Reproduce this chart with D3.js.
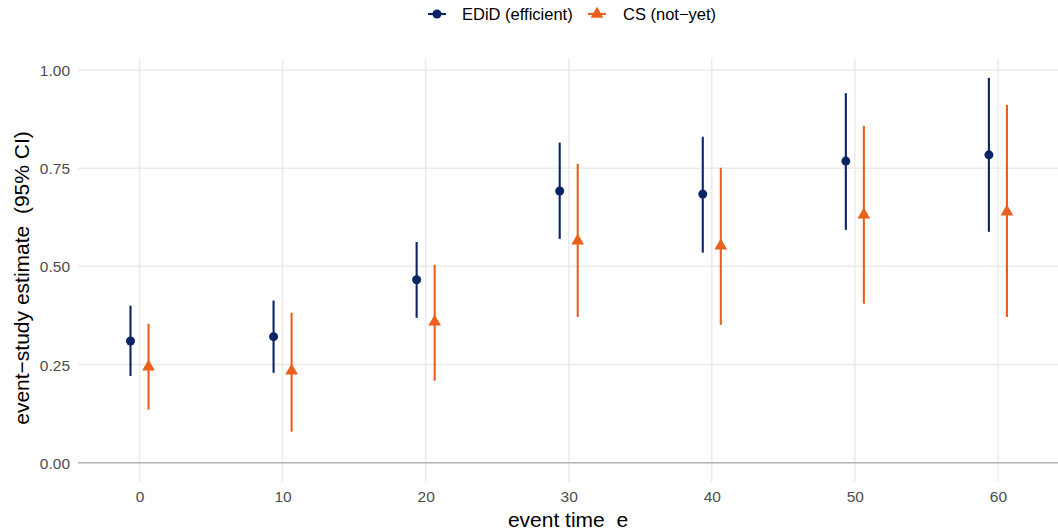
<!DOCTYPE html>
<html>
<head>
<meta charset="utf-8">
<script src="https://cdn.jsdelivr.net/npm/d3@7"></script>
<style>
  html, body { margin: 0; padding: 0; background: #fff; }
  svg { display: block; font-family: "Liberation Sans", Arial, Helvetica, sans-serif; }
</style>
</head>
<body>
<svg id="chart" width="1058" height="530"></svg>
<script>
// ---- data ----
const eventTimes = [0, 10, 20, 30, 40, 50, 60];
const seriesNames = ["EDiD (efficient)", "CS (not\u2212yet)"];
const edidEst = [0.310, 0.321, 0.466, 0.692, 0.684, 0.768, 0.784];
const edidLo  = [0.221, 0.229, 0.369, 0.570, 0.535, 0.593, 0.588];
const edidHi  = [0.400, 0.413, 0.562, 0.815, 0.830, 0.941, 0.980];
const csEst   = [0.244, 0.234, 0.359, 0.565, 0.552, 0.631, 0.639];
const csLo    = [0.135, 0.079, 0.209, 0.371, 0.351, 0.405, 0.371];
const csHi    = [0.354, 0.382, 0.504, 0.761, 0.751, 0.858, 0.911];
const yTicks  = [0, 0.25, 0.5, 0.75, 1.0];
const xTicks  = [0, 10, 20, 30, 40, 50, 60];

const colors = { edid: "#0b2466", cs: "#e8601c" };
const dodge = 0.63;

const svg = d3.select("#chart");
const panel = { left: 78, right: 1058, top: 58.6, bottom: 482 };

const x = d3.scaleLinear().domain([-4.3, 64.2]).range([panel.left, panel.right]);
const y = d3.scaleLinear().domain([-0.049, 1.029]).range([panel.bottom, panel.top]);

// grid
const grid = svg.append("g");
grid.selectAll("line.hg").data(yTicks).join("line")
  .attr("x1", panel.left).attr("x2", panel.right)
  .attr("y1", d => y(d)).attr("y2", d => y(d))
  .attr("stroke", "#ebebeb").attr("stroke-width", 1.5);
grid.selectAll("line.vg").data(xTicks).join("line")
  .attr("y1", panel.top).attr("y2", panel.bottom)
  .attr("x1", d => x(d)).attr("x2", d => x(d))
  .attr("stroke", "#ebebeb").attr("stroke-width", 1.5);

// zero line
svg.append("line")
  .attr("x1", panel.left).attr("x2", panel.right)
  .attr("y1", y(0)).attr("y2", y(0))
  .attr("stroke", "#b5b5b5").attr("stroke-width", 1.5);

// axes (labels only, using d3 axes)
const yAxis = d3.axisLeft(y).tickValues(yTicks).tickFormat(d3.format(".2f")).tickSize(0).tickPadding(0);
const gy = svg.append("g").attr("transform", `translate(${panel.left - 8},0)`).call(yAxis);
gy.select(".domain").remove();
gy.selectAll("text").attr("fill", "#4d4d4d").style("font-size", "15.5px").attr("dy", "0.36em")
  .style("font-family", "'Liberation Sans', Arial, sans-serif");

const xAxis = d3.axisBottom(x).tickValues(xTicks).tickFormat(d3.format("d")).tickSize(0).tickPadding(0);
const gx = svg.append("g").attr("transform", `translate(0,${panel.bottom + 8})`).call(xAxis);
gx.select(".domain").remove();
gx.selectAll("text").attr("fill", "#4d4d4d").style("font-size", "15.5px").attr("dy", "0.75em")
  .style("font-family", "'Liberation Sans', Arial, sans-serif");

// axis titles
svg.append("text").attr("x", (panel.left + panel.right) / 2).attr("y", 527)
  .attr("text-anchor", "middle").style("font-size", "21px").attr("fill", "#000")
  .style("white-space", "pre")
  .text("event time  e");
svg.append("text").attr("transform", `translate(29,278) rotate(-90)`)
  .attr("text-anchor", "middle").style("font-size", "21px").attr("fill", "#000")
  .style("white-space", "pre")
  .text("event\u2212study estimate  (95% CI)");

// data rows
const edidRows = eventTimes.map((t, i) => ({ t, est: edidEst[i], lo: edidLo[i], hi: edidHi[i] }));
const csRows = eventTimes.map((t, i) => ({ t, est: csEst[i], lo: csLo[i], hi: csHi[i] }));

const tri = d3.symbol().type(d3.symbolTriangle).size(70);

// EDiD
const gE = svg.append("g");
gE.selectAll("line").data(edidRows).join("line")
  .attr("x1", d => x(d.t - dodge)).attr("x2", d => x(d.t - dodge))
  .attr("y1", d => y(d.lo)).attr("y2", d => y(d.hi))
  .attr("stroke", colors.edid).attr("stroke-width", 2.1);
gE.selectAll("circle").data(edidRows).join("circle")
  .attr("cx", d => x(d.t - dodge)).attr("cy", d => y(d.est)).attr("r", 4.5)
  .attr("fill", colors.edid);

// CS
const gC = svg.append("g");
gC.selectAll("line").data(csRows).join("line")
  .attr("x1", d => x(d.t + dodge)).attr("x2", d => x(d.t + dodge))
  .attr("y1", d => y(d.lo)).attr("y2", d => y(d.hi))
  .attr("stroke", colors.cs).attr("stroke-width", 2.1);
gC.selectAll("path").data(csRows).join("path")
  .attr("d", tri)
  .attr("transform", d => `translate(${x(d.t + dodge)},${y(d.est)})`)
  .attr("fill", colors.cs);

// legend
const leg = svg.append("g");
const legY = 14;
const items = [
  { name: seriesNames[0], color: colors.edid, shape: "circle", kx: 428, tx: 462 },
  { name: seriesNames[1], color: colors.cs, shape: "tri", kx: 588, tx: 623 }
];
items.forEach(it => {
  leg.append("line").attr("x1", it.kx).attr("x2", it.kx + 18).attr("y1", legY).attr("y2", legY)
    .attr("stroke", it.color).attr("stroke-width", 2.1);
  if (it.shape === "circle") {
    leg.append("circle").attr("cx", it.kx + 9).attr("cy", legY).attr("r", 4.5).attr("fill", it.color);
  } else {
    leg.append("path").attr("d", tri).attr("transform", `translate(${it.kx + 9},${legY})`).attr("fill", it.color);
  }
  leg.append("text").attr("x", it.tx).attr("y", legY).attr("dy", "0.36em")
    .style("font-size", "16.5px").attr("fill", "#000").text(it.name);
});
</script>
</body>
</html>
